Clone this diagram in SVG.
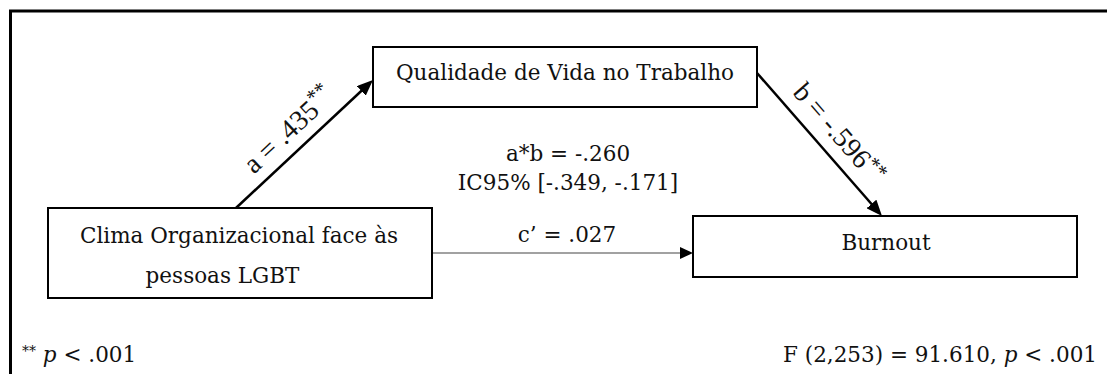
<svg xmlns="http://www.w3.org/2000/svg" width="1107" height="374" viewBox="0 0 1107 374">
<style>
.box{fill:#fff;stroke:#000;stroke-width:2}
.t{font-family:"DejaVu Serif","Liberation Serif",serif;font-size:21.5px;fill:#111}
.r{font-family:"Liberation Serif","DejaVu Serif",serif;font-size:28px;fill:#111}
.line{fill:none;stroke:#000;stroke-width:2.5}
.thin{fill:none;stroke:#444;stroke-width:1.2}
</style>
<defs>
<marker id="ah" viewBox="0 0 16 13" refX="12" refY="6.5" markerWidth="16" markerHeight="13" markerUnits="userSpaceOnUse" orient="auto"><path d="M0,0 L16,6.5 L0,13 z" fill="#000"/></marker>
<marker id="ah2" viewBox="0 0 13 12" refX="9" refY="6" markerWidth="13" markerHeight="12" markerUnits="userSpaceOnUse" orient="auto"><path d="M0,0 L13,6 L0,12 z" fill="#000"/></marker>
</defs>
<rect width="1107" height="374" fill="#fff"/>
<path d="M10.5 380 V11 H1110" fill="none" stroke="#000" stroke-width="3"/>
<g id="connectors">
<path class="line" d="M236 208 L370.08 82.73" marker-end="url(#ah)"/>
<path class="line" d="M757 73 L879.37 212.99" marker-end="url(#ah)"/>
<path class="thin" d="M432 253 H689" marker-end="url(#ah2)"/>
<text class="r" transform="translate(236,208) rotate(-43.05)" x="36" y="-12">a = .435<tspan font-size="21" dy="-10">**</tspan></text>
<text class="r" transform="translate(757,73) rotate(48.84)" x="38" y="-13">b = -.596<tspan font-size="21" dy="-8">**</tspan></text>
<text class="t" x="567" y="242" text-anchor="middle">c’ = .027</text>
</g>
<g id="qualidade">
<rect class="box" x="373" y="47" width="384" height="60"/>
<text class="t" x="565" y="80" text-anchor="middle">Qualidade de Vida no Trabalho</text>
</g>
<g id="clima">
<rect class="box" x="48" y="208" width="384" height="90"/>
<text class="t" x="239" y="243" text-anchor="middle">Clima Organizacional face às</text>
<text class="t" x="222.5" y="283" text-anchor="middle">pessoas LGBT</text>
</g>
<g id="burnout">
<rect class="box" x="693" y="216" width="384" height="61"/>
<text class="t" x="886" y="250" text-anchor="middle">Burnout</text>
</g>
<g id="indirect">
<text class="t" x="568" y="161" text-anchor="middle">a*b = -.260</text>
<text class="t" x="568" y="190" text-anchor="middle">IC95% [-.349, -.171]</text>
</g>
<g id="notes">
<text class="t" x="22" y="362"><tspan font-size="14" dy="-6">**</tspan><tspan dy="6"> </tspan><tspan font-style="italic">p</tspan> &lt; .001</text>
<text class="t" x="1097" y="362" text-anchor="end">F (2,253) = 91.610, <tspan font-style="italic">p</tspan> &lt; .001</text>
</g>
</svg>
